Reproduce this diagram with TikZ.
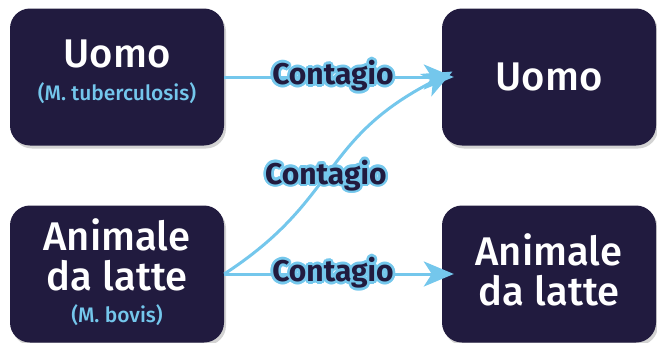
\documentclass[tikz,border=0pt]{standalone}
\usepackage{fontspec}
\setmainfont{Fira Sans}
\newfontfamily\hostfont{Fira Sans Medium}
\usepackage{contour}
\contourlength{2.6pt}
\contournumber{16}
\usetikzlibrary{positioning,arrows.meta,shadows}

\definecolor{navy}{HTML}{211B3F}
\definecolor{sky}{HTML}{74C7EC}
\newcommand{\strain}[1]{{\fontsize{21}{21}\selectfont\color{sky}#1}}

\begin{document}
\begin{tikzpicture}[x=1pt,y=-1pt,
  host/.style={rectangle,rounded corners=20pt,fill=navy,text=white,minimum width=214pt,minimum height=137pt,align=center,
    font=\hostfont\fontsize{40}{40}\selectfont,drop shadow={shadow xshift=2pt,shadow yshift=-3pt,opacity=.35}},
  spread/.style={-{Stealth[length=30pt,width=25pt,inset=8pt]},line width=3pt,draw=sky,shorten >=-12pt},
  tag/.style={font=\bfseries\fontsize{30}{30}\selectfont,text=navy,inner sep=0pt},
]
\useasboundingbox (0,0) rectangle (657,343);

% === Hosts ===
\node[host] (uomoA) at (117,77) {Uomo\\[-7pt]\strain{(M. tuberculosis)}\\[-26pt]\mbox{}};
\node[host] (animA) at (117,274) {Animale\\da latte\\[-8pt]\strain{(M. bovis)}\\[-34pt]\mbox{}};
\node[host] (uomoB) at (549,77) {Uomo};
\node[host] (animB) at (549,274) {Animale\\da latte\\[-32pt]\mbox{}};

% === Transmission ===
\draw[spread] (uomoA) -- node[tag] {\contour{sky}{Contagio}} (uomoB);
\draw[spread] (animA) -- node[tag] {\contour{sky}{Contagio}} (animB);
\draw[spread] (animA.east) to[out=33,in=207,looseness=1.2] node[tag,pos=0.47] {\contour{sky}{Contagio}} (uomoB.west);

\end{tikzpicture}
\end{document}
